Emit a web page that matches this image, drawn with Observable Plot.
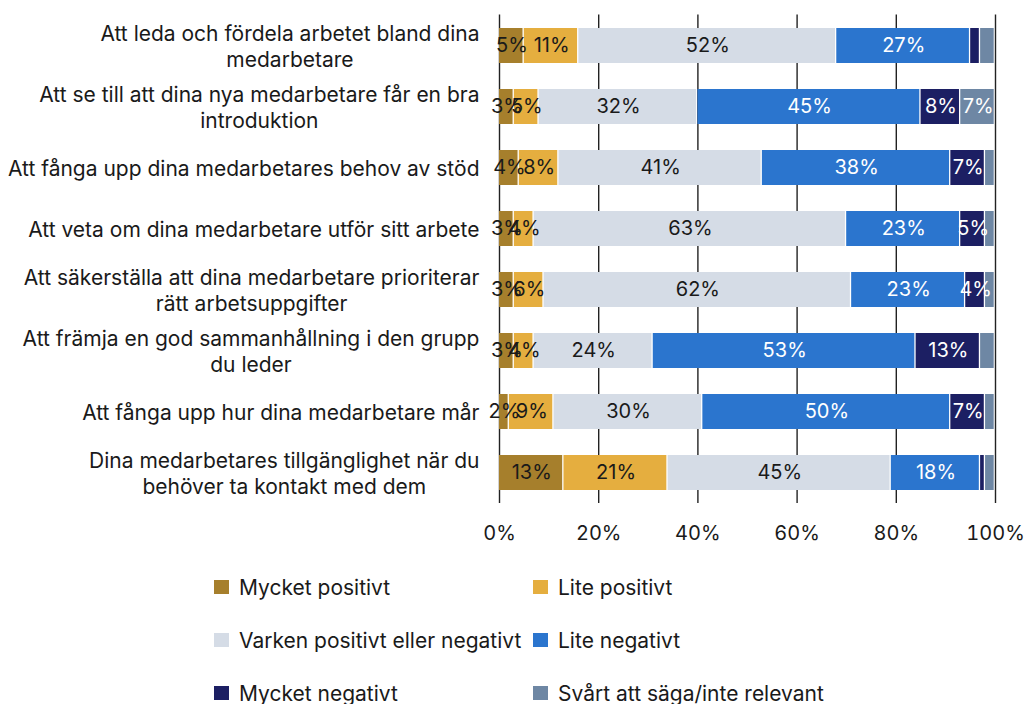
<!DOCTYPE html>
<html>
<head>
<meta charset="utf-8">
<script src="https://cdn.jsdelivr.net/npm/d3@7"></script>
<script src="https://cdn.jsdelivr.net/npm/@observablehq/plot@0.6"></script>
<style>
  html, body { margin: 0; padding: 0; background: #fff; }
  body { width: 1024px; height: 704px; overflow: hidden; font-family: Inter, sans-serif; }
  #legend { position: relative; height: 146px; }
  .item { position: absolute; display: flex; align-items: center; font-size: 21px; color: #1a1a1a; white-space: nowrap; }
  .sw { width: 15px; height: 14px; margin-right: 10px; flex: none; }
</style>
</head>
<body>
<div id="chart"></div>
<div id="legend"></div>
<script>
const categories = [
  "Att leda och fördela arbetet bland dina\nmedarbetare",
  "Att se till att dina nya medarbetare får en bra\nintroduktion",
  "Att fånga upp dina medarbetares behov av stöd",
  "Att veta om dina medarbetare utför sitt arbete",
  "Att säkerställa att dina medarbetare prioriterar\nrätt arbetsuppgifter",
  "Att främja en god sammanhållning i den grupp\ndu leder",
  "Att fånga upp hur dina medarbetare mår",
  "Dina medarbetares tillgänglighet när du\nbehöver ta kontakt med dem"
];
const seriesNames = [
  "Mycket positivt",
  "Lite positivt",
  "Varken positivt eller negativt",
  "Lite negativt",
  "Mycket negativt",
  "Svårt att säga/inte relevant"
];
const mycketPositivt = [5, 3, 4, 3, 3, 3, 2, 13];
const litePositivt   = [11, 5, 8, 4, 6, 4, 9, 21];
const varken         = [52, 32, 41, 63, 62, 24, 30, 45];
const liteNegativt   = [27, 45, 38, 23, 23, 53, 50, 18];
const mycketNegativt = [2, 8, 7, 5, 4, 13, 7, 1];
const svart          = [3, 7, 2, 2, 2, 3, 2, 2];
const xTicks = [0, 20, 40, 60, 80, 100];
const colors = ["#a67f2c", "#e5ae3f", "#d5dce6", "#2b75ce", "#1c1f63", "#6e87a4"];

const seriesValues = [mycketPositivt, litePositivt, varken, liteNegativt, mycketNegativt, svart];
const data = [];
categories.forEach((c, i) => {
  seriesNames.forEach((s, j) => {
    data.push({category: c, series: s, si: j, value: seriesValues[j][i]});
  });
});
const shown = d => d.si < 4 || d.value >= 4;

const chart = Plot.plot({
  width: 1024,
  height: 558,
  marginLeft: 499,
  marginRight: 29,
  marginTop: 14.5,
  marginBottom: 55,
  style: {fontFamily: "Inter, sans-serif", color: "#1a1a1a", background: "#fff"},
  x: {domain: [0, 100], ticks: xTicks, tickFormat: d => d + "%", label: null},
  y: {domain: categories, paddingInner: 0.42, paddingOuter: 0.21, label: null},
  color: {domain: seriesNames, range: colors},
  marks: [
    Plot.ruleX(xTicks, {x: d => d, stroke: "#222", strokeWidth: 1.4}),
    Plot.barX(data, Plot.stackX({x: "value", y: "category", fill: "series", z: "series", insetRight: 1.3})),
    Plot.text(data, Plot.stackX({x: "value", y: "category", z: "series",
      text: d => (d.si < 3 && shown(d)) ? d.value + "%" : null, fill: "#1a1a1a", fontSize: 20})),
    Plot.text(data, Plot.stackX({x: "value", y: "category", z: "series",
      text: d => (d.si >= 3 && shown(d)) ? d.value + "%" : null, fill: "#ffffff", fontSize: 20})),
    Plot.axisX({ticks: xTicks, tickFormat: d => d + "%", tickSize: 0, tickPadding: 22, fontSize: 20, label: null}),
    Plot.axisY({tickSize: 0, tickPadding: 20, fontSize: 21, lineHeight: 1.2, label: null})
  ]
});
document.getElementById("chart").appendChild(chart);

// center multi-line y tick labels within their block (block right-aligned)
chart.querySelectorAll('g[aria-label="y-axis tick label"] text').forEach(t => {
  const tsp = t.querySelectorAll("tspan");
  if (tsp.length > 1) {
    const w = t.getBBox().width;
    t.setAttribute("text-anchor", "middle");
    tsp.forEach(s => s.setAttribute("x", -w / 2));
  }
});

const legend = document.getElementById("legend");
const colX = [214, 533];
const rowY = [29, 82, 135];
seriesNames.forEach((s, i) => {
  const it = document.createElement("div");
  it.className = "item";
  it.style.left = colX[i % 2] + "px";
  it.style.top = (rowY[Math.floor(i / 2)] - 13) + "px";
  it.style.height = "26px";
  const sw = document.createElement("span");
  sw.className = "sw";
  sw.style.background = colors[i];
  const tx = document.createElement("span");
  tx.textContent = s;
  it.appendChild(sw);
  it.appendChild(tx);
  legend.appendChild(it);
});
</script>
</body>
</html>
